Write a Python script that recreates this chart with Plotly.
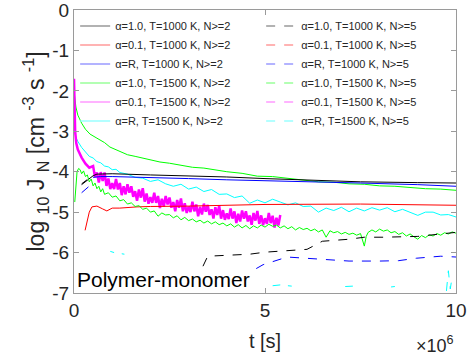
import plotly.graph_objects as go

# time in units of 1e6 s
t_black2 = [0.2, 0.34, 0.5, 0.6, 1.0, 2.0, 3.0, 4.0, 5.0, 6.0, 7.5, 9.0, 10.0]
y_black2 = [-4.32, -4.22, -4.1, -4.06, -4.05, -4.08, -4.1, -4.13, -4.17, -4.2, -4.25, -4.27, -4.28]

t_red2 = [0.29, 0.4, 0.47, 0.6, 0.75, 0.86, 1.0, 1.2, 1.65, 2.0, 3.0, 5.0, 7.5, 9.0, 10.0]
y_red2 = [-5.45, -5.0, -4.87, -4.85, -4.92, -4.97, -4.9, -4.9, -4.87, -4.86, -4.85, -4.81, -4.8, -4.82, -4.83]

t_blue2 = [0.5, 0.7, 1.0, 2.0, 3.0, 4.0, 5.0, 6.0, 7.5, 9.0, 10.0]
y_blue2 = [-4.14, -4.12, -4.12, -4.14, -4.17, -4.2, -4.22, -4.25, -4.28, -4.32, -4.36]

t_green2 = [0, 0.02, 0.05, 0.1, 0.2, 0.3, 0.42, 0.6, 0.8, 0.94, 1.1, 1.25, 1.4, 1.6, 1.8, 2.0, 2.25, 2.5, 2.8, 3.1,
            3.4, 3.7, 4.0, 4.4, 4.8, 5.2, 5.6, 6.0, 6.4, 6.8, 7.2, 7.6, 8.0, 8.4, 8.8, 9.2, 9.6, 10.0]
y_green2 = [-2.0, -2.2, -2.4, -2.6, -2.8, -2.95, -3.07, -3.17, -3.28, -3.39, -3.45, -3.52, -3.58, -3.62, -3.66, -3.71,
            -3.76, -3.79, -3.84, -3.89, -3.91, -3.96, -4.0, -4.04, -4.11, -4.12, -4.16, -4.2, -4.25, -4.26, -4.3, -4.31,
            -4.35, -4.36, -4.39, -4.42, -4.43, -4.46]

t_mag2 = [0, 0.01, 0.03, 0.06, 0.1, 0.2, 0.3, 0.4,
          0.50, 0.55, 0.60, 0.65, 0.70, 0.75, 0.80, 0.85, 0.90, 0.95, 1.00, 1.05, 1.10, 1.15, 1.20, 1.25, 1.30, 1.35,
          1.40, 1.45, 1.50, 1.55, 1.60, 1.65, 1.70, 1.75, 1.80, 1.85, 1.90, 1.95, 2.00, 2.05, 2.10, 2.15, 2.20, 2.25,
          2.30, 2.35, 2.40, 2.45, 2.50, 2.55, 2.60, 2.65, 2.70, 2.75, 2.80, 2.85, 2.90, 2.95, 3.00, 3.05, 3.10, 3.15,
          3.20, 3.25, 3.30, 3.35, 3.40, 3.45, 3.50, 3.55, 3.60, 3.65, 3.70, 3.75, 3.80, 3.85, 3.90, 3.95, 4.00, 4.05,
          4.10, 4.15, 4.20, 4.25, 4.30, 4.35, 4.40, 4.45, 4.50, 4.55, 4.60, 4.65, 4.70, 4.75, 4.80, 4.85, 4.90, 4.95,
          5.00, 5.05, 5.10, 5.15, 5.20, 5.25, 5.30, 5.35, 5.40]
y_mag2 = [-1.7, -2.5, -3.0, -3.3, -3.45, -3.65, -3.8, -3.9,
          -3.86, -4.13, -4.02, -4.27, -4.01, -4.23, -4.02, -4.35, -4.17, -4.43, -4.28, -4.43, -4.18, -4.44, -4.28, -4.58,
          -4.36, -4.56, -4.31, -4.52, -4.36, -4.62, -4.48, -4.72, -4.44, -4.64, -4.41, -4.74, -4.54, -4.79, -4.63, -4.77,
          -4.52, -4.77, -4.60, -4.90, -4.67, -4.86, -4.60, -4.81, -4.64, -4.89, -4.75, -4.98, -4.70, -4.89, -4.66, -4.98,
          -4.78, -5.02, -4.86, -5.00, -4.74, -4.98, -4.81, -5.10, -4.87, -5.06, -4.79, -4.99, -4.82, -5.07, -4.93, -5.16,
          -4.88, -5.07, -4.84, -5.16, -4.95, -5.19, -5.03, -5.17, -4.91, -5.16, -4.98, -5.27, -5.04, -5.23, -4.96, -5.16,
          -4.98, -5.23, -5.08, -5.31, -5.02, -5.21, -4.97, -5.29, -5.08, -5.32, -5.15, -5.29, -5.02, -5.27, -5.09, -5.38,
          -5.14, -5.33, -5.07]

t_cyan2 = [0, 0.02, 0.05, 0.1, 0.2, 0.3, 0.4, 0.5, 0.6, 0.7, 0.8, 0.9, 1.0, 1.1, 1.2, 1.4, 1.6, 1.8, 2.0, 2.2,
           2.4, 2.6, 2.8, 3.0, 3.2, 3.4, 3.6, 3.8, 4.0, 4.2, 4.4, 4.6, 4.8, 5.0, 5.2, 5.4, 5.6, 5.8, 6.0, 6.2,
           6.4, 6.6, 6.8, 7.0, 7.2, 7.4, 7.6, 7.8, 8.0, 8.2, 8.4, 8.6, 8.8, 9.0, 9.2, 9.4, 9.6, 9.8, 10.0]
y_cyan2 = [-2.6, -3.0, -3.15, -3.25, -3.4, -3.5, -3.62, -3.66, -3.75, -3.78, -3.86, -3.88, -3.95, -3.94, -4.02,
           -4.06, -4.14, -4.16, -4.24, -4.2, -4.30, -4.36, -4.31, -4.43, -4.38, -4.49, -4.44, -4.56, -4.55, -4.64,
           -4.6, -4.78, -4.7, -4.77, -4.68, -4.75, -4.82, -4.77, -4.86, -4.85, -5.0, -4.9, -4.96, -4.88, -4.99,
           -4.9, -4.97, -4.89, -4.95, -4.89, -4.99, -4.93, -5.01, -5.08, -5.0, -5.0, -5.07, -5.06, -5.12]

t_black5 = [0.2, 0.34, None, 3.2, 3.3, 3.5, 4.0, 4.6, 5.0, 5.4, 6.1, 6.5, 7.2, 7.6, 8.1, 9.0, 10.0]
y_black5 = [-4.3, -4.2, None, -6.75, -6.49, -6.09, -6.06, -6.04, -5.99, -5.96, -5.92, -5.72, -5.67, -5.62, -5.62, -5.6, -5.5]

t_blue5 = [0.2, 0.47, None, 2.5, 2.85, 3.3, 4.1, 4.5, 4.67, 4.95, 5.58, 6.36, 7.2, 8.0, 8.5, 8.96, 9.6, 10.0]
y_blue5 = [-4.52, -4.3, None, -6.45, -6.46, -6.49, -6.58, -6.6, -6.45, -6.3, -6.11, -6.16, -6.21, -6.21, -6.2, -6.14, -6.09, -6.11]

t_green5 = [0.02, 0.05, 0.08, 0.12, 0.16, 0.2, 0.25, 0.3, 0.35, 0.4, 0.45, 0.5, 0.55, 0.6, 0.65, 0.7, 0.75, 0.8, 0.9,
            1.0, 1.1, 1.2, 1.3, 1.4, 1.5, 1.6, 1.7, 1.8, 1.9, 2.0, 2.1, 2.2, 2.3, 2.4, 2.5, 2.6, 2.7, 2.8, 2.9, 3.0,
            3.1, 3.2, 3.3, 3.4, 3.5, 3.6, 3.7, 3.8, 3.9, 4.0, 4.1, 4.2, 4.3, 4.4, 4.5, 4.6, 4.7, 4.8, 4.9, 5.0, 5.1,
            5.2, 5.3, 5.4, 5.5, 5.6, 5.7, 5.8, 5.9, 6.0, 6.1, 6.2, 6.3, 6.4, 6.5, 6.6, 6.7, 6.8, 6.9, 7.0, 7.1, 7.2,
            7.3, 7.4, 7.5, 7.6, 7.65, 7.7, 7.8, 7.9, 8.0, 8.1, 8.2, 8.3, 8.4, 8.5, 8.6, 8.7, 8.8, 8.9, 9.0, 9.1, 9.2,
            9.3, 9.4, 9.5, 9.6, 9.7, 9.8, 9.9, 10.0]
y_green5 = [-4.75, -4.3, -4.0, -3.92, -3.95, -4.05, -3.98, -4.12, -4.08, -4.25, -4.18, -4.35, -4.28, -4.42, -4.36,
            -4.5, -4.42, -4.56, -4.52, -4.63, -4.6, -4.72, -4.69, -4.8, -4.77, -4.86, -4.84, -4.93, -4.9, -5.0,
            -4.97, -5.1, -5.02, -5.07, -5.06, -5.14, -5.09, -5.19, -5.13, -5.21, -5.17, -5.24, -5.2, -5.27, -5.22,
            -5.29, -5.24, -5.31, -5.27, -5.34, -5.29, -5.37, -5.31, -5.39, -5.33, -5.41, -5.34, -5.39, -5.32, -5.37,
            -5.3, -5.35, -5.32, -5.39, -5.34, -5.41, -5.36, -5.44, -5.38, -5.43, -5.4, -5.46, -5.42, -5.49, -5.44,
            -5.62, -5.46, -5.51, -5.48, -5.54, -5.5, -5.55, -5.52, -5.57, -5.53, -5.84, -5.6, -5.5, -5.44, -5.49,
            -5.42, -5.47, -5.44, -5.51, -5.48, -5.55, -5.51, -5.59, -5.54, -5.61, -5.67, -5.58, -5.63, -5.56, -5.59,
            -5.53, -5.57, -5.51, -5.54, -5.49, -5.52]

t_cyan5 = [0.95, 1.05, None, 1.25, 1.32, None, 5.2, 5.4, None, 5.6, 5.7, None, 7.1, 7.3, None, 8.3, 8.4, None,
           9.75, 9.8, 9.85, 9.9]
y_cyan5 = [-5.97, -6.0, None, -6.03, -6.04, None, -6.82, -6.8, None, -6.82, -6.83, None, -6.84, -6.83, None,
           -6.85, -6.84, None, -6.95, -6.45, -6.9, -6.6]

x_ticks = [0, 5, 10]
x_ticktext = ["0", "5", "10"]
y_ticks = [0, -1, -2, -3, -4, -5, -6, -7]
y_ticktext = ["0", "-1", "-2", "-3", "-4", "-5", "-6", "-7"]

legend_labels = [
    "α=1.0, T=1000 K, N>=2", "α=1.0, T=1000 K, N>=5",
    "α=0.1, T=1000 K, N>=2", "α=0.1, T=1000 K, N>=5",
    "α=R, T=1000 K, N>=2", "α=R, T=1000 K, N>=5",
    "α=1.0, T=1500 K, N>=2", "α=1.0, T=1500 K, N>=5",
    "α=0.1, T=1500 K, N>=2", "α=0.1, T=1500 K, N>=5",
    "α=R, T=1500 K, N>=2", "α=R, T=1500 K, N>=5",
]
legend_colors = ["#999999", "#999999", "#ff9a9a", "#ff9a9a", "#9a9aff", "#9a9aff",
                 "#9aff9a", "#9aff9a", "#ff9aff", "#ff9aff", "#9affff", "#9affff"]
legend_dash = ["solid", "dash"] * 6

fig = go.Figure()

solid_series = [
    (t_green2, y_green2, "#00ff00", 1),
    (t_cyan2, y_cyan2, "#00ffff", 1),
    (t_mag2, y_mag2, "#ff00ff", 2.5),
    (t_black2, y_black2, "#000000", 1),
    (t_blue2, y_blue2, "#0000ff", 1),
    (t_red2, y_red2, "#ff0000", 1),
]
for tx, yy, c, w in solid_series:
    fig.add_trace(go.Scatter(x=tx, y=yy, mode="lines", line=dict(color=c, width=w),
                             showlegend=False, hoverinfo="skip"))

fig.add_trace(go.Scatter(x=t_green5, y=y_green5, mode="lines", line=dict(color="#00ff00", width=1),
                         showlegend=False, hoverinfo="skip"))
fig.add_trace(go.Scatter(x=t_black5, y=y_black5, mode="lines", line=dict(color="#000000", width=1, dash="dash"),
                         showlegend=False, hoverinfo="skip"))
fig.add_trace(go.Scatter(x=t_blue5, y=y_blue5, mode="lines", line=dict(color="#0000ff", width=1, dash="dash"),
                         showlegend=False, hoverinfo="skip"))
fig.add_trace(go.Scatter(x=t_cyan5, y=y_cyan5, mode="lines", line=dict(color="#00ffff", width=1, dash="dash"),
                         showlegend=False, hoverinfo="skip"))

for lab, c, d in zip(legend_labels, legend_colors, legend_dash):
    fig.add_trace(go.Scatter(x=[None], y=[None], mode="lines", name=lab,
                             line=dict(color=c, width=1.5, dash=d)))

axis_common = dict(showline=True, linecolor="#9a9a9a", linewidth=1, mirror="ticks",
                   ticks="inside", ticklen=5, tickcolor="#9a9a9a", showgrid=False, zeroline=False,
                   automargin=False, ticklabeloverflow="allow",
                   tickfont=dict(family="Liberation Sans, Arial, sans-serif", size=19, color="#262626"))

fig.update_layout(
    width=469, height=356,
    margin=dict(l=74, r=13, t=10, b=63, autoexpand=False),
    plot_bgcolor="white", paper_bgcolor="white",
    font=dict(family="Liberation Sans, Arial, sans-serif", color="#262626"),
    xaxis=dict(range=[0, 10], tickvals=x_ticks, ticktext=x_ticktext,
               title=dict(text="t [s]", font=dict(size=20), standoff=14), **axis_common),
    yaxis=dict(range=[-7, 0], tickvals=y_ticks, ticktext=y_ticktext,
               title=dict(text="log <sub>10</sub> J <sub>N</sub> [cm <sup>-3</sup> s <sup>-1</sup>]",
                          font=dict(size=23), standoff=1), **axis_common),
    legend=dict(orientation="h", x=0.003, y=0.995, xanchor="left", yanchor="top",
                entrywidth=141, entrywidthmode="pixels", bgcolor="rgba(0,0,0,0)",
                font=dict(size=11, color="#262626"), borderwidth=0),
    annotations=[
        dict(text="Polymer-monomer", xref="paper", yref="paper", x=0.0, y=0.0,
             xanchor="left", yanchor="bottom", showarrow=False, bgcolor="white",
             font=dict(size=21, color="#000000"), borderpad=0, xshift=2, yshift=1),
        dict(text="×10<sup>6</sup>", xref="paper", yref="paper", x=1.0, y=0, xanchor="right",
             yanchor="top", yshift=-38, showarrow=False, font=dict(size=18, color="#262626")),
    ],
)

fig.write_html("out.html", config={"displayModeBar": False},
               post_script="document.body.style.margin='0';document.body.style.padding='0';"
                           "document.documentElement.style.overflow='hidden';")
